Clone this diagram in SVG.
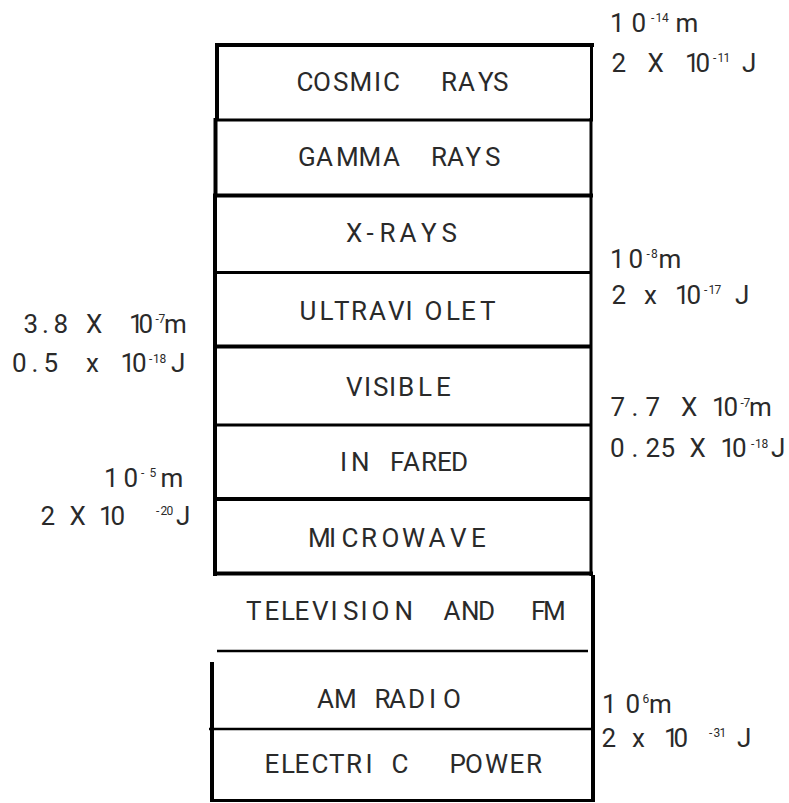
<svg xmlns="http://www.w3.org/2000/svg" width="789" height="803" viewBox="0 0 789 803">
  <style>
    .edge { stroke: #000; fill: none; stroke-linecap: butt; }
    .w4 { stroke-width: 4; }
    .w3 { stroke-width: 3; }
    .w25 { stroke-width: 2.5; }
    text { font-family: Roboto, "Noto Sans", "Liberation Sans", sans-serif; font-weight: 400; font-size: 26px; fill: #2a2a2a; }
    .sup { font-size: 12px; }
  </style>
  <rect width="789" height="803" fill="#fff"/>

  <!-- spectrum bands, top to bottom -->
  <g id="cosmic-rays">
    <line class="edge w4" x1="215" y1="45" x2="594" y2="45"/>
    <line class="edge w4" x1="217" y1="43" x2="217" y2="121"/>
    <line class="edge w3" x1="591.5" y1="43" x2="591.5" y2="121"/>
    <line class="edge w3" x1="215" y1="120" x2="593" y2="120"/>
    <text x="296.5 313 333 349.5 374 383 420 441 458 478 493" y="91">COSMIC RAYS</text>
  </g>

  <g id="gamma-rays">
    <line class="edge w4" x1="215.5" y1="118" x2="215.5" y2="197"/>
    <line class="edge w3" x1="591" y1="118" x2="591" y2="197"/>
    <line class="edge w4" x1="213" y1="195.5" x2="593" y2="195.5"/>
    <text x="298 316 336 358.5 383 410 431 447 465.5 485" y="166">GAMMA RAYS</text>
  </g>

  <g id="x-rays">
    <line class="edge w4" x1="215" y1="194" x2="215" y2="576"/>
    <line class="edge w3" x1="591" y1="194" x2="591" y2="576"/>
    <line class="edge w3" x1="215" y1="272.5" x2="591" y2="272.5"/>
    <text x="346 366.5 379.5 399.5 421 441.5" y="242">X-RAYS</text>
  </g>

  <g id="ultraviolet">
    <line class="edge w4" x1="215" y1="346.5" x2="591" y2="346.5"/>
    <text x="299.5 319.5 334 351 369 388 405.5 424.5 446 461 480" y="320">ULTRAVIOLET</text>
  </g>

  <g id="visible">
    <line class="edge w3" x1="215" y1="425" x2="591" y2="425"/>
    <text x="346 364 373 389 398 418 436" y="396">VISIBLE</text>
  </g>

  <g id="infrared">
    <line class="edge w4" x1="215" y1="499" x2="591" y2="499"/>
    <text x="340 351 375 390 403 421 437 451" y="471">IN FARED</text>
  </g>

  <g id="microwave">
    <line class="edge w4" x1="213" y1="573.5" x2="593" y2="573.5"/>
    <text x="308 329 341.5 361 381.5 402 428.5 450 471" y="547">MICROWAVE</text>
  </g>

  <g id="television-fm">
    <line class="edge w4" x1="593" y1="575" x2="593" y2="802"/>
    <line class="edge w25" x1="217" y1="651" x2="588" y2="651"/>
    <text x="246 264.5 281 294.5 312 330.5 343 360.5 371.5 394.5 420 443.5 461 478 505 531 543" y="620">TELEVISION AND FM</text>
  </g>

  <g id="am-radio">
    <line class="edge w4" x1="212" y1="662" x2="212" y2="802"/>
    <line class="edge w25" x1="209" y1="729" x2="592" y2="729"/>
    <text x="317 334 360 374.5 389 408 429 443" y="708">AM RADIO</text>
  </g>

  <g id="electric-power">
    <line class="edge w3" x1="211" y1="800.5" x2="591" y2="800.5"/>
    <text x="264.5 281 294.5 311.5 329 346 365.5 391.5 420 449.5 465 485 509.5 526" y="773">ELECTRIC POWER</text>
  </g>

  <!-- wavelength / photon energy marks -->
  <g id="mark-cosmic">
    <text><tspan x="610 631.5" y="31.5">10</tspan><tspan class="sup" x="651 655.5 662" y="22">-14</tspan><tspan x="675.5" y="31.5">m</tspan></text>
    <text><tspan x="611.5 630 647.5 670 685 695.5" y="72">2 X 10</tspan><tspan class="sup" x="713 717.5 723.5" y="62">-11</tspan><tspan x="742" y="72">J</tspan></text>
  </g>

  <g id="mark-x-rays">
    <text><tspan x="610 628.5" y="268">10</tspan><tspan class="sup" x="646.5 651" y="258">-8</tspan><tspan x="658.5" y="268">m</tspan></text>
    <text><tspan x="611.5 628 644 660 675 686.5" y="303.5">2 x 10</tspan><tspan class="sup" x="704 708.5 714.5" y="294">-17</tspan><tspan x="735" y="303.5">J</tspan></text>
  </g>

  <g id="mark-violet">
    <text><tspan x="23.5 42 53.5 70 86 110 129 138.5" y="332.5">3.8 X 10</tspan><tspan class="sup" x="155.5 158.5" y="323">-7</tspan><tspan x="164" y="332.5">m</tspan></text>
    <text><tspan x="12 31.5 43.5 65 86 110 120.5 132" y="371.5">0.5 x 10</tspan><tspan class="sup" x="149 153 159.5" y="363">-18</tspan><tspan x="171" y="371.5">J</tspan></text>
  </g>

  <g id="mark-red">
    <text><tspan x="610.5 631.5 645.5 665 681 700 712 723.5" y="416">7.7 X 10</tspan><tspan class="sup" x="740.5 743.5" y="407">-7</tspan><tspan x="749" y="416">m</tspan></text>
    <text><tspan x="610 631.5 645.5 660.5 675 689.5 708 720.5 732" y="456.5">0.25 X 10</tspan><tspan class="sup" x="751 755 761.5" y="448">-18</tspan><tspan x="771" y="456.5">J</tspan></text>
  </g>

  <g id="mark-infrared">
    <text><tspan x="104 123.5" y="486.5">10</tspan><tspan class="sup" x="141 149.5" y="477">-5</tspan><tspan x="160.5" y="486.5">m</tspan></text>
    <text><tspan x="40.5 55 69.5 85 99 110.5" y="525">2 X 10</tspan><tspan class="sup" x="156 160.5 166.5" y="515">-20</tspan><tspan x="176" y="525">J</tspan></text>
  </g>

  <g id="mark-radio">
    <text><tspan x="602 625.5" y="713">10</tspan><tspan class="sup" x="642.5" y="703">6</tspan><tspan x="649" y="713">m</tspan></text>
    <text><tspan x="601.5 615 632 650 664 673.5" y="747">2 x 10</tspan><tspan class="sup" x="709 713.5 719.5" y="737">-31</tspan><tspan x="737" y="747">J</tspan></text>
  </g>
</svg>
